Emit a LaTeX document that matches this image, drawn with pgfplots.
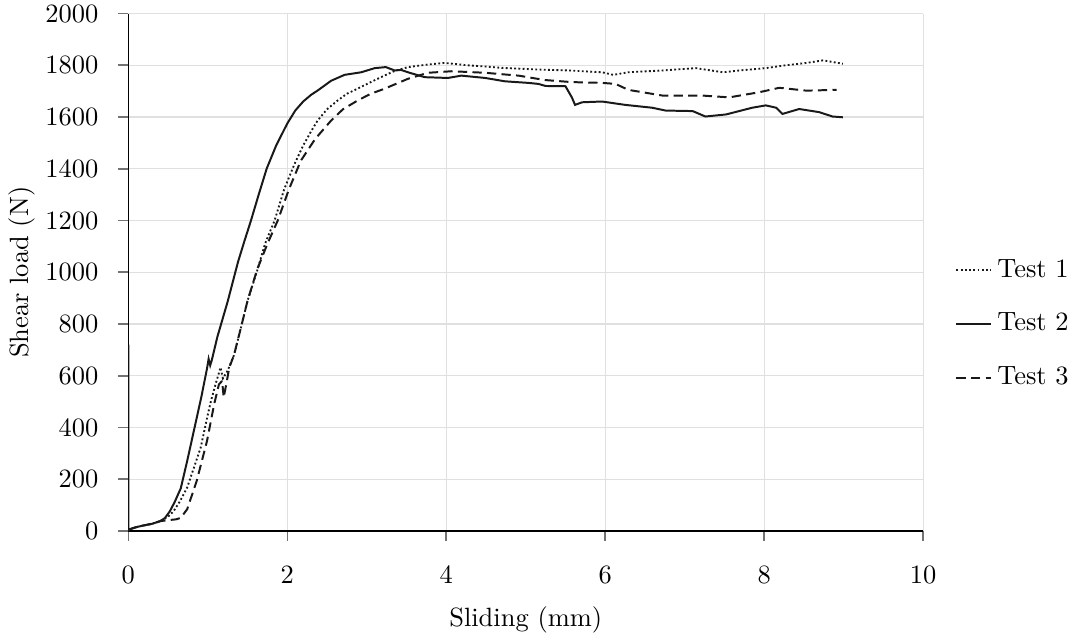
\documentclass[border=0pt]{standalone}
\usepackage{pgfplots}
\pgfplotsset{compat=1.18}
\begin{document}
\begin{tikzpicture}
\begin{axis}[
  scale only axis, width=300.6pt, height=195.7pt,
  xmin=0, xmax=10, ymin=0, ymax=2000,
  xtick={0,2,...,10}, ytick={0,200,...,2000},
  /pgf/number format/1000 sep={},
  axis lines*=left,
  grid=major, grid style={black!12, line width=0.5pt},
  tick align=outside, major tick length=3.8pt,
  tick style={black!55, line width=0.6pt},
  axis line style={black, line width=0.6pt},
  xticklabel style={yshift=-6pt},
  yticklabel style={xshift=-4pt, inner ysep=1.9pt},
  xlabel={Sliding (mm)}, ylabel={Shear load (N)},
  xlabel style={yshift=-2pt},
  ylabel shift=-3pt,
  legend style={at={(1.04,0.40)}, anchor=west, draw=none, fill=none, row sep=8pt, inner sep=0pt},
  legend cell align=left,
  legend image code/.code={\draw[#1] (0cm,0cm) -- (0.46cm,0cm);},
]
\addplot[black!90, line width=0.7pt, dash pattern=on 0.7pt off 0.9pt] coordinates {
(0,5) (0.1,15) (0.2,22) (0.3,28) (0.4,38) (0.5,55) (0.57,77) (0.65,115) (0.74,168) (0.82,240) (0.91,322) (1.0,450) (1.04,503) (1.1,570) (1.16,632) (1.19,590) (1.25,620) (1.33,680) (1.42,790) (1.5,890) (1.62,1005) (1.72,1110) (1.84,1200) (1.96,1320) (2.09,1418) (2.2,1490) (2.3,1545) (2.38,1586) (2.5,1630) (2.63,1663) (2.75,1690) (2.88,1709) (3.05,1735) (3.22,1760) (3.35,1778) (3.52,1793) (3.77,1803) (3.98,1809) (4.27,1800) (4.5,1795) (4.7,1790) (5.12,1784) (5.54,1780) (5.96,1773) (6.1,1763) (6.29,1773) (6.72,1780) (7.14,1789) (7.48,1773) (7.69,1780) (8.02,1789) (8.27,1800) (8.53,1809) (8.74,1819) (8.99,1806)
};
\addlegendentry{Test 1}
\addplot[black!90, line width=0.75pt] coordinates {
(0,0) (0,720) (0,5) (0.1,15) (0.2,22) (0.3,28) (0.4,38) (0.46,50) (0.52,75) (0.58,110) (0.66,165) (0.74,270) (0.83,395) (0.92,520) (0.99,628) (1.01,665) (1.03,640) (1.05,660) (1.12,750) (1.25,887) (1.38,1040) (1.46,1120) (1.54,1197) (1.64,1300) (1.74,1400) (1.86,1490) (2.0,1575) (2.1,1625) (2.2,1660) (2.3,1686) (2.38,1702) (2.47,1722) (2.55,1740) (2.72,1763) (2.93,1773) (3.1,1789) (3.24,1793) (3.35,1780) (3.43,1782) (3.55,1770) (3.73,1754) (4.02,1751) (4.19,1760) (4.49,1751) (4.74,1738) (5.03,1732) (5.16,1728) (5.25,1720) (5.5,1719) (5.58,1676) (5.62,1647) (5.71,1657) (5.96,1660) (6.25,1647) (6.59,1636) (6.76,1625) (7.1,1623) (7.26,1602) (7.52,1610) (7.85,1636) (8.02,1645) (8.15,1636) (8.23,1612) (8.44,1631) (8.69,1619) (8.86,1602) (8.99,1599)
};
\addlegendentry{Test 2}
\addplot[black!90, line width=0.75pt, dash pattern=on 3.5pt off 2pt] coordinates {
(0,5) (0.1,15) (0.2,22) (0.3,28) (0.4,38) (0.5,42) (0.6,45) (0.66,51) (0.74,84) (0.86,193) (0.99,348) (1.08,490) (1.14,567) (1.18,580) (1.2,516) (1.24,580) (1.27,632) (1.33,680) (1.42,790) (1.5,890) (1.62,1010) (1.75,1110) (1.88,1200) (2.02,1320) (2.17,1431) (2.35,1515) (2.55,1586) (2.7,1630) (2.88,1663) (3.05,1690) (3.22,1709) (3.52,1748) (3.77,1771) (4.07,1777) (4.49,1771) (4.91,1760) (5.24,1743) (5.58,1735) (5.96,1732) (6.13,1728) (6.29,1705) (6.72,1683) (7.22,1683) (7.56,1676) (7.94,1696) (8.19,1713) (8.53,1702) (8.91,1705)
};
\addlegendentry{Test 3}
\end{axis}
\path (current axis.south west) ++(0,-41.3pt);
\end{tikzpicture}
\end{document}
